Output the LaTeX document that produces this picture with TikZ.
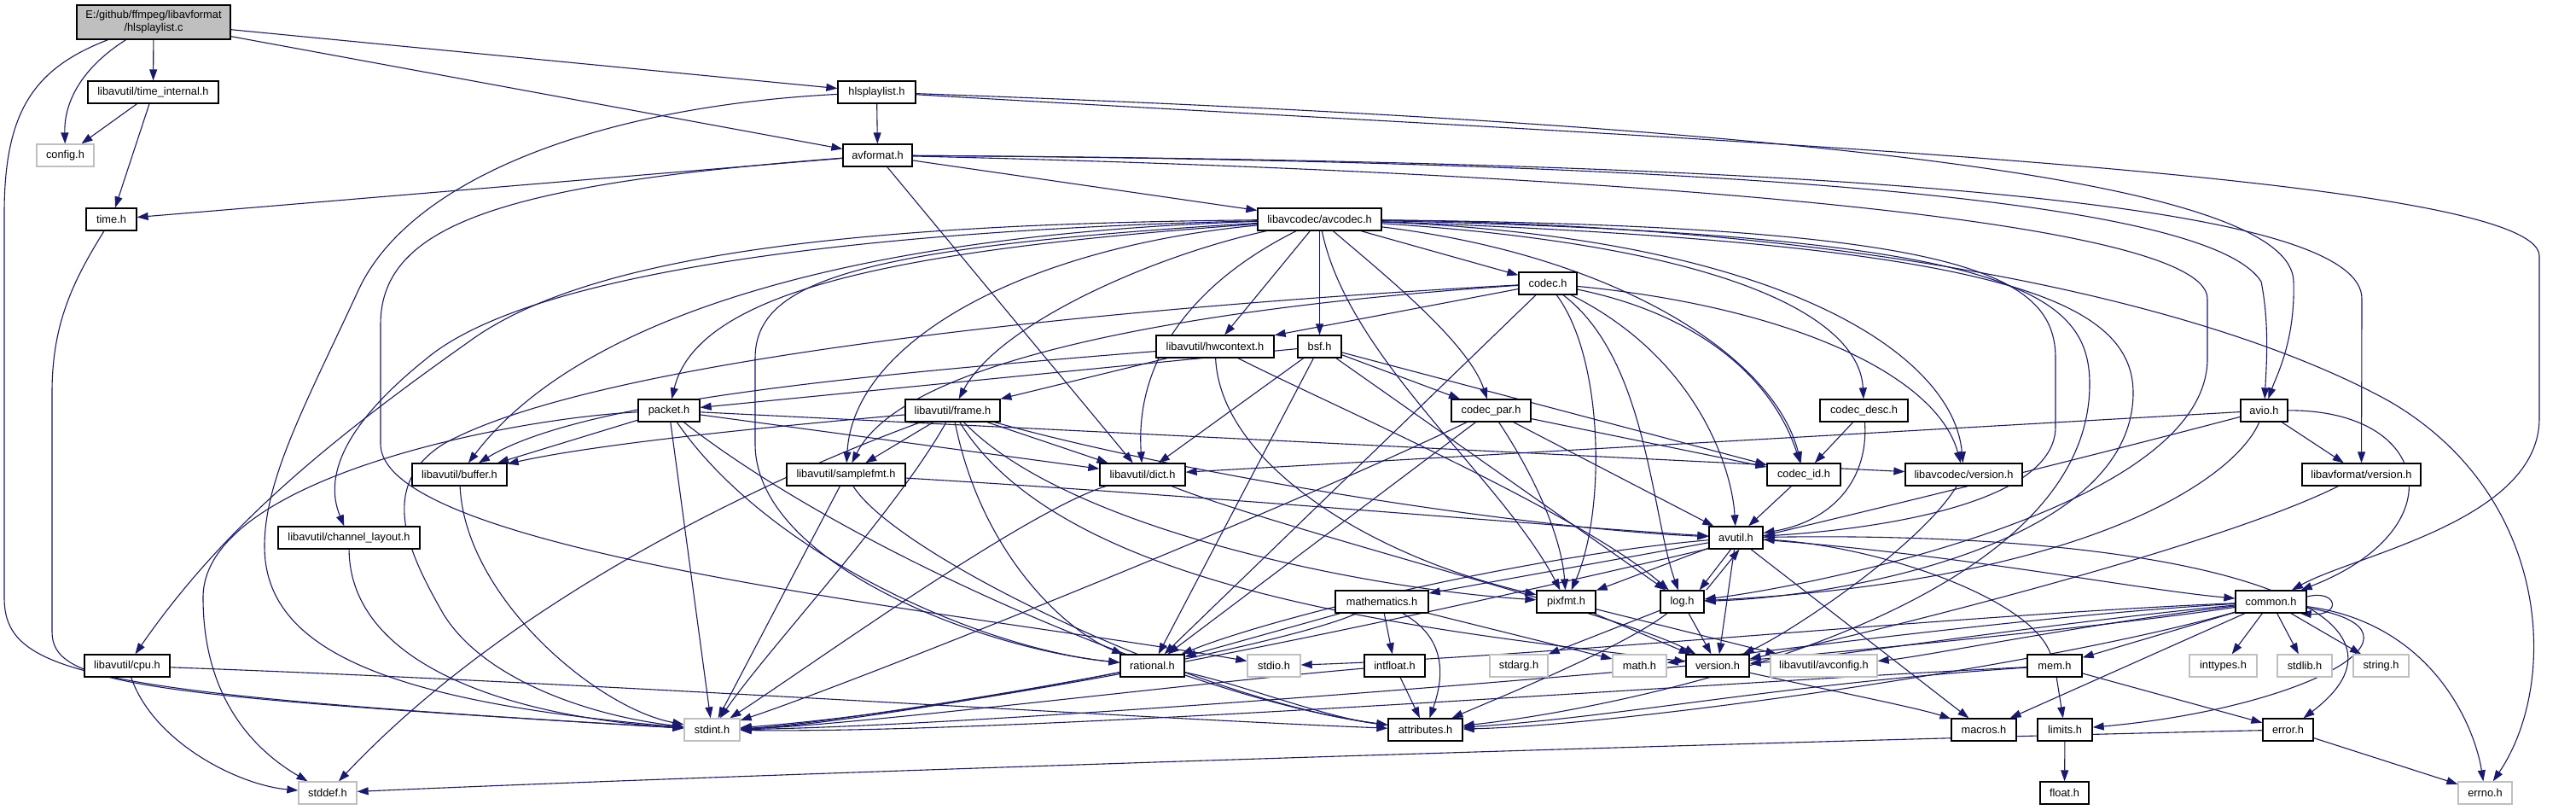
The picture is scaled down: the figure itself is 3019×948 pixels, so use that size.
\documentclass[tikz,border=0pt]{standalone}
\usepackage{fontspec}
\setmainfont{Liberation Sans}
\usetikzlibrary{arrows.meta}
\pgfdeclarelayer{bg}
\pgfdeclarelayer{paper}
\pgfsetlayers{paper,bg,main}
\definecolor{edgec}{HTML}{191970}
\definecolor{sysc}{HTML}{BFBFBF}
\definecolor{rootc}{HTML}{BFBFBF}
\begin{document}
\begin{tikzpicture}[x=1pt,y=-1pt,
  box/.style={draw=black,line width=1.3pt,fill=white,inner sep=0pt,minimum height=26pt,font=\fontsize{12.8}{15}\selectfont},
  sys/.style={box,draw=sysc},
  e/.style={draw=edgec,line width=1.1pt,-{Triangle[length=13pt,width=9pt]}}]
\begin{pgfonlayer}{paper}
\fill[white] (0,0) rectangle (3019,948);
\end{pgfonlayer}
\useasboundingbox (0,0) rectangle (3019,948);
% row 0-3
\node[box,fill=rootc,minimum width=180pt,minimum height=40pt,align=center] (root) at (180,26) {E:/github/ffmpeg/libavformat\\/hlsplaylist.c};
\node[box,minimum width=153pt] (tint) at (179.5,108) {libavutil/time\_internal.h};
\node[box,minimum width=91pt] (hlsh) at (1027.5,108) {hlsplaylist.h};
\node[sys,minimum width=67pt] (config) at (76.5,182) {config.h};
\node[box,minimum width=81pt] (avformat) at (1028.5,182) {avformat.h};
\node[box,minimum width=59pt] (timeh) at (130.5,257) {time.h};
\node[box,minimum width=145pt] (avcodec) at (1546.5,257) {libavcodec/avcodec.h};
% row 4-6
\node[box,minimum width=68pt] (codec) at (1814,332) {codec.h};
\node[box,minimum width=138pt] (hwctx) at (1424,406) {libavutil/hwcontext.h};
\node[box,minimum width=51pt] (bsf) at (1546.5,406) {bsf.h};
\node[box,minimum width=72pt] (packet) at (784,481) {packet.h};
\node[box,minimum width=111pt] (frame) at (1116.5,481) {libavutil/frame.h};
\node[box,minimum width=93pt] (codecpar) at (1747.5,481) {codec\_par.h};
\node[box,minimum width=103pt] (codecdesc) at (2184.5,481) {codec\_desc.h};
\node[box,minimum width=55pt] (avio) at (2653.5,481) {avio.h};
% row 7
\node[box,minimum width=111pt] (buffer) at (538.5,556) {libavutil/buffer.h};
\node[box,minimum width=139pt] (samplefmt) at (991.5,556) {libavutil/samplefmt.h};
\node[box,minimum width=100pt] (dict) at (1339,556) {libavutil/dict.h};
\node[box,minimum width=86pt] (codecid) at (2114,556) {codec\_id.h};
\node[box,minimum width=137pt] (lavcver) at (2301.5,556) {libavcodec/version.h};
\node[box,minimum width=139pt] (lavfver) at (2767.5,556) {libavformat/version.h};
% row 8
\node[box,minimum width=166pt] (chlayout) at (409,630) {libavutil/channel\_layout.h};
\node[box,minimum width=63pt] (avutil) at (2034.5,630) {avutil.h};
% row 9
\node[box,minimum width=109pt] (mathem) at (1619.5,705) {mathematics.h};
\node[box,minimum width=69pt] (pixfmt) at (1835.5,705) {pixfmt.h};
\node[box,minimum width=51pt] (log) at (1971.5,705) {log.h};
\node[box,minimum width=83pt] (common) at (2661.5,705) {common.h};
% row 10
\node[box,minimum width=100pt] (cpu) at (149,780) {libavutil/cpu.h};
\node[box,minimum width=75pt] (rational) at (1350.5,780) {rational.h};
\node[sys,minimum width=62pt] (stdio) at (1493,780) {stdio.h};
\node[box,minimum width=71pt] (intfloat) at (1634.5,780) {intfloat.h};
\node[sys,minimum width=68pt] (stdarg) at (1780,780) {stdarg.h};
\node[sys,minimum width=63pt] (mathh) at (1921.5,780) {math.h};
\node[box,minimum width=74pt] (version) at (2013,780) {version.h};
\node[sys,minimum width=125pt] (avconfig) at (2137.5,780) {libavutil/avconfig.h};
\node[box,minimum width=64pt] (mem) at (2408,780) {mem.h};
\node[sys,minimum width=79pt] (inttypes) at (2605.5,780) {inttypes.h};
\node[sys,minimum width=64pt] (stdlib) at (2701,780) {stdlib.h};
\node[sys,minimum width=65pt] (string) at (2790.5,780) {string.h};
% row 11
\node[sys,minimum width=65pt] (stdint) at (834.5,855) {stdint.h};
\node[box,minimum width=87pt] (attrib) at (1670.5,855) {attributes.h};
\node[box,minimum width=76pt] (macros) at (2325,855) {macros.h};
\node[box,minimum width=64pt] (limits) at (2420,855) {limits.h};
\node[box,minimum width=59pt] (error) at (2681.5,855) {error.h};
% row 12
\node[sys,minimum width=68pt] (stddef) at (384,929) {stddef.h};
\node[box,minimum width=57pt] (float) at (2419.5,929) {float.h};
\node[sys,minimum width=63pt] (errno) at (2912.5,929) {errno.h};

\begin{pgfonlayer}{bg}
% root
\draw[e] (root) .. controls (95,80) and (75,120) .. (config);
\draw[e] (root) -- (tint);
\draw[e] (root) .. controls (40,80) and (5,130) .. (5,250) -- (5,700) .. controls (5,790) and (100,812) .. (stdint);
\draw[e] (root) -- (hlsh);
\draw[e] (root) -- (avformat);
% time_internal
\draw[e] (tint) -- (config);
\draw[e] (tint) -- (timeh);
\draw[e] (timeh) .. controls (85,330) and (61,380) .. (61,460) -- (61,740) .. controls (61,800) and (150,815) .. (stdint);
% hlsplaylist.h
\draw[e] (hlsh) -- (avformat);
\draw[e] (hlsh) .. controls (700,125) and (480,210) .. (420,340) .. controls (360,470) and (310,560) .. (310,640) .. controls (310,760) and (450,822) .. (stdint);
\draw[e] (hlsh) .. controls (1900,160) and (2976,200) .. (2976,300) -- (2976,490) .. controls (2976,610) and (2760,650) .. (common);
\draw[e] (hlsh) .. controls (2200,150) and (2686,220) .. (2688,330) .. controls (2690,400) and (2668,440) .. (avio);
% avformat
\draw[e] (avformat) -- (timeh);
\draw[e] (avformat) .. controls (600,215) and (446,260) .. (446,380) -- (446,520) .. controls (446,650) and (1150,720) .. (stdio);
\draw[e] (avformat) -- (dict);
\draw[e] (avformat) -- (avcodec);
\draw[e] (avformat) .. controls (1800,200) and (2587,250) .. (2587,350) -- (2587,420) .. controls (2587,600) and (2100,690) .. (log);
\draw[e] (avformat) .. controls (2200,190) and (2600,250) .. (2650,330) .. controls (2660,380) and (2656,430) .. (avio);
\draw[e] (avformat) .. controls (2300,190) and (2768,250) .. (2768,350) -- (lavfver);
% avcodec
\draw[e] (avcodec) .. controls (2200,265) and (2600,360) .. (2800,470) .. controls (2990,580) and (3000,800) .. (errno);
\draw[e] (avcodec) .. controls (1200,290) and (1000,400) .. (samplefmt);
\draw[e] (avcodec) .. controls (2350,275) and (2449,340) .. (2449,450) .. controls (2449,720) and (1900,830) .. (attrib);
\draw[e] (avcodec) .. controls (2300,265) and (2409,320) .. (2409,420) -- (2409,500) .. controls (2409,590) and (2200,620) .. (avutil);
\draw[e] (avcodec) .. controls (1000,275) and (680,370) .. (buffer);
\draw[e] (avcodec) .. controls (1050,262) and (700,290) .. (550,400) .. controls (380,520) and (260,620) .. (cpu);
\draw[e] (avcodec) .. controls (1000,270) and (620,320) .. (500,420) .. controls (400,500) and (380,560) .. (chlayout);
\draw[e] (avcodec) .. controls (1400,330) and (1330,420) .. (dict);
\draw[e] (avcodec) .. controls (1350,300) and (1170,380) .. (frame);
\draw[e] (avcodec) -- (hwctx);
\draw[e] (avcodec) .. controls (2300,285) and (2500,340) .. (2500,460) .. controls (2500,640) and (2150,700) .. (log);
\draw[e] (avcodec) .. controls (1580,420) and (1760,560) .. (pixfmt);
\draw[e] (avcodec) .. controls (1000,290) and (885,330) .. (885,420) -- (885,520) .. controls (885,660) and (1150,760) .. (rational);
\draw[e] (avcodec) -- (bsf);
\draw[e] (avcodec) -- (codec);
\draw[e] (avcodec) .. controls (2050,290) and (2180,380) .. (codecdesc);
\draw[e] (avcodec) .. controls (1620,320) and (1720,400) .. (codecpar);
\draw[e] (avcodec) .. controls (1900,300) and (2080,420) .. (codecid);
\draw[e] (avcodec) .. controls (1100,290) and (820,330) .. (packet);
\draw[e] (avcodec) .. controls (2100,280) and (2290,420) .. (lavcver);
% codec
\draw[e] (codec) .. controls (1300,360) and (700,420) .. (520,520) .. controls (440,570) and (480,650) .. (520,720) .. controls (570,800) and (700,840) .. (stdint);
\draw[e] (codec) .. controls (1400,360) and (1060,420) .. (samplefmt);
\draw[e] (codec) -- (hwctx);
\draw[e] (codec) -- (rational);
\draw[e] (codec) .. controls (1880,420) and (1882,600) .. (pixfmt);
\draw[e] (codec) .. controls (1930,420) and (1935,600) .. (log);
\draw[e] (codec) .. controls (1990,420) and (2030,550) .. (avutil);
\draw[e] (codec) .. controls (2000,370) and (2080,450) .. (codecid);
\draw[e] (codec) .. controls (2100,360) and (2270,440) .. (lavcver);
% hwcontext
\draw[e] (hwctx) .. controls (1000,440) and (680,470) .. (buffer);
\draw[e] (hwctx) -- (frame);
\draw[e] (hwctx) .. controls (1430,540) and (1600,650) .. (pixfmt);
\draw[e] (hwctx) .. controls (1550,470) and (1850,600) .. (log);
% bsf
\draw[e] (bsf) -- (packet);
\draw[e] (bsf) -- (dict);
\draw[e] (bsf) -- (rational);
\draw[e] (bsf) -- (codecpar);
\draw[e] (bsf) -- (codecid);
\draw[e] (bsf) -- (log);
% packet
\draw[e] (packet) .. controls (600,490) and (238,560) .. (238,700) .. controls (238,820) and (300,880) .. (stddef);
\draw[e] (packet) -- (stdint);
\draw[e] (packet) .. controls (1000,650) and (1400,820) .. (attrib);
\draw[e] (packet) -- (buffer);
\draw[e] (packet) -- (dict);
\draw[e] (packet) .. controls (900,650) and (1150,760) .. (rational);
\draw[e] (packet) -- (lavcver);
% frame
\draw[e] (frame) .. controls (900,560) and (600,700) .. (stddef);
\draw[e] (frame) .. controls (1050,600) and (900,760) .. (stdint);
\draw[e] (frame) .. controls (1400,560) and (1800,620) .. (avutil);
\draw[e] (frame) .. controls (900,500) and (700,520) .. (buffer);
\draw[e] (frame) -- (dict);
\draw[e] (frame) .. controls (1150,650) and (1250,740) .. (rational);
\draw[e] (frame) -- (samplefmt);
\draw[e] (frame) .. controls (1250,620) and (1600,690) .. (pixfmt);
\draw[e] (frame) .. controls (1250,700) and (1700,740) .. (version);
% codec_par
\draw[e] (codecpar) .. controls (1500,600) and (1000,800) .. (stdint);
\draw[e] (codecpar) -- (avutil);
\draw[e] (codecpar) -- (rational);
\draw[e] (codecpar) .. controls (1800,560) and (1830,630) .. (pixfmt);
\draw[e] (codecpar) -- (codecid);
% codec_desc
\draw[e] (codecdesc) .. controls (2190,560) and (2150,610) .. (avutil);
\draw[e] (codecdesc) -- (codecid);
% avio
\draw[e] (avio) .. controls (2200,600) and (1300,820) .. (stdint);
\draw[e] (avio) .. controls (2850,480) and (2880,620) .. (common);
\draw[e] (avio) -- (dict);
\draw[e] (avio) .. controls (2620,560) and (2450,680) .. (log);
\draw[e] (avio) -- (lavfver);
% samplefmt, dict, ids, versions
\draw[e] (samplefmt) -- (stdint);
\draw[e] (samplefmt) .. controls (1400,580) and (1800,615) .. (avutil);
\draw[e] (samplefmt) .. controls (1050,650) and (1400,820) .. (attrib);
\draw[e] (dict) .. controls (1200,600) and (950,780) .. (stdint);
\draw[e] (dict) .. controls (1500,620) and (1900,720) .. (version);
\draw[e] (codecid) -- (avutil);
\draw[e] (lavcver) .. controls (2250,640) and (2100,740) .. (version);
\draw[e] (lavfver) .. controls (2600,640) and (2200,740) .. (version);
\draw[e] (buffer) .. controls (545,700) and (700,830) .. (stdint);
\draw[e] (chlayout) .. controls (410,780) and (600,840) .. (stdint);
% avutil
\draw[e] (avutil) .. controls (2300,650) and (2500,690) .. (common);
\draw[e] (avutil) .. controls (2600,620) and (2860,720) .. (error);
\draw[e] (avutil) .. controls (1800,650) and (1500,720) .. (rational);
\draw[e] (avutil) -- (version);
\draw[e] (avutil) -- (macros);
\draw[e] (avutil) -- (mathem);
\draw[e] ([xshift=-6pt]avutil.south) -- ([xshift=-6pt]log.north east);
\draw[e] (avutil) -- (pixfmt);
% log
\draw[e] (log) -- (stdarg);
\draw[e] ([xshift=2pt]log.north east) -- ([xshift=4pt]avutil.south);
\draw[e] (log) .. controls (1900,760) and (1750,820) .. (attrib);
\draw[e] (log) -- (version);
% mathematics
\draw[e] (mathem) .. controls (1500,760) and (1000,850) .. (stdint);
\draw[e] (mathem) -- (mathh);
\draw[e] (mathem) .. controls (1700,750) and (1690,800) .. (attrib);
\draw[e] (mathem) -- (rational);
\draw[e] (mathem) -- (intfloat);
% pixfmt
\draw[e] (pixfmt) -- (avconfig);
\draw[e] (pixfmt) -- (version);
% common
\draw[e] (common) .. controls (2850,730) and (2900,850) .. (errno);
\draw[e] (common) -- (inttypes);
\draw[e] (common) .. controls (2870,740) and (2700,830) .. (limits);
\draw[e] (common) .. controls (2400,720) and (2100,760) .. (mathh);
\draw[e] (common) .. controls (2300,760) and (1200,850) .. (stdint);
\draw[e] (common) .. controls (2300,720) and (1800,770) .. (stdio);
\draw[e] (common) -- (stdlib);
\draw[e] (common) -- (string);
\draw[e] (common) .. controls (2400,780) and (1900,850) .. (attrib);
\draw[e] (common) -- (macros);
\draw[e] (common) .. controls (2400,730) and (2150,770) .. (version);
\draw[e] (common) .. controls (2450,730) and (2250,770) .. (avconfig);
\draw[e] (common) -- (mem);
\draw[e] ([yshift=6pt]common.east) .. controls (2740,690) and (2745,722) .. ([xshift=-8pt]common.south east);
% mem
\draw[e] (mem) .. controls (2100,800) and (1900,840) .. (attrib);
\draw[e] (mem) -- (error);
\draw[e] (mem) .. controls (2380,700) and (2200,640) .. (avutil);
\draw[e] (mem) -- (limits);
\draw[e] (mem) .. controls (2000,800) and (1200,860) .. (stdint);
% small ones
\draw[e] (intfloat) .. controls (1400,800) and (1000,850) .. (stdint);
\draw[e] (intfloat) -- (attrib);
\draw[e] (rational) .. controls (1200,810) and (950,850) .. (stdint);
\draw[e] (rational) .. controls (1450,800) and (1550,840) .. (attrib);
\draw[e] (version) .. controls (2150,810) and (2250,830) .. (macros);
\draw[e] (limits) -- (float);
\draw[e] (error) -- (errno);
\draw[e] (error) .. controls (2000,870) and (800,910) .. (stddef);
\draw[e] (cpu) .. controls (700,800) and (1300,840) .. (attrib);
\draw[e] (cpu) .. controls (180,870) and (280,920) .. (stddef);
\end{pgfonlayer}
\end{tikzpicture}
\end{document}
